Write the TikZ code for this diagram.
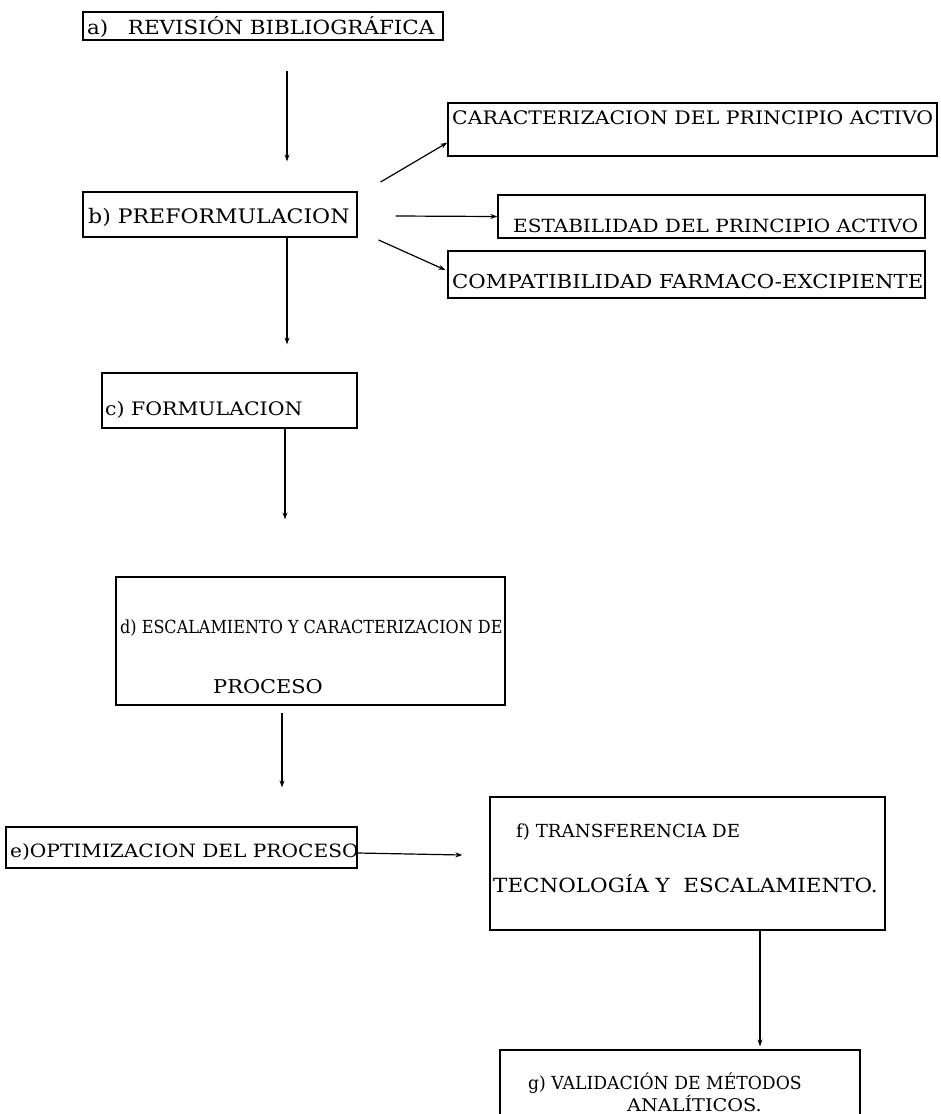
\documentclass[tikz,border=0pt]{standalone}
\usepackage{fontspec}
\setmainfont[FakeStretch=1.1]{DejaVu Serif}
\usetikzlibrary{arrows.meta,positioning}
\begin{document}
\begin{tikzpicture}[x=1pt,y=-1pt,
  box/.style={draw,line width=1.2pt,inner sep=0pt},
  txt/.style={anchor=base west,inner sep=0pt,font=\fontsize{#1}{22}\selectfont},
  txt/.default=19,
  arr/.style={line width=1.2pt,-{Stealth[length=7pt,width=5pt]}}]
\useasboundingbox (0,0) rectangle (940,1114);
\clip (0,0) rectangle (940,1114);

% boxes
\node[box,minimum width=360pt,minimum height=28pt] (a) at (263,26) {};
\node[box,minimum width=274pt,minimum height=45pt] (b) at (220,214.5) {};
\node[box,minimum width=489pt,minimum height=53pt] (ca) at (692.5,129.5) {};
\node[box,minimum width=427pt,minimum height=43pt] (es) at (711.5,216.5) {};
\node[box,minimum width=477pt,minimum height=47pt] (co) at (686.5,274.5) {};
\node[box,minimum width=255pt,minimum height=55pt] (c) at (229.5,400.5) {};
\node[box,minimum width=389pt,minimum height=128pt] (d) at (310.5,641) {};
\node[box,minimum width=351pt,minimum height=41pt] (e) at (181.5,847.5) {};
\node[box,minimum width=395pt,minimum height=133pt] (f) at (687.5,863.5) {};
\node[box,minimum width=360pt,minimum height=90pt] (g) at (680,1095) {};

% texts
\node[txt=19.5] (ta) at (87,34) {a)\quad REVISIÓN BIBLIOGRÁFICA};
\node[txt=20] (tb) at (88,223) {b) PREFORMULACION};
\node[txt=18.6] (tca) at (452,124) {CARACTERIZACION DEL PRINCIPIO ACTIVO};
\node[txt=18.2] (tes) at (513,232) {ESTABILIDAD DEL PRINCIPIO ACTIVO};
\node[txt=19.3] (tco) at (452,288) {COMPATIBILIDAD FARMACO-EXCIPIENTE};
\node[txt=18.6] (tc) at (105,415) {c) FORMULACION};
\node[txt=18] (td1) at (120,633) {\scalebox{0.81}[1]{d) ESCALAMIENTO Y CARACTERIZACION DE}};
\node[txt=19] (td2) at (213,693) {PROCESO};
\node[txt=18.3] (te) at (10,857) {e)OPTIMIZACION DEL PROCESO};
\node[txt=18] (tf1) at (516,837) {\scalebox{0.92}[1]{f) TRANSFERENCIA DE}};
\node[txt=19.5] (tf2) at (493,892) {TECNOLOGÍA Y\ \ ESCALAMIENTO.};
\node[txt=18] (tg1) at (528,1089) {\scalebox{0.87}[1]{g) VALIDACIÓN DE MÉTODOS}};
\node[txt=17.5] (tg2) at (627,1111) {ANALÍTICOS.};

% arrows
\draw[arr] ([xshift=24pt,yshift=-30pt]a.south) -- ([xshift=67pt,yshift=30pt]b.north);
\draw[arr] ([xshift=23pt,yshift=32.5pt]b.east) -- ([yshift=14pt]ca.south west);
\draw[arr] ([xshift=38pt,yshift=-1.5pt]b.east) -- (es.west);
\draw[arr] ([xshift=21pt,yshift=-25.5pt]b.east) -- ([xshift=-2pt,yshift=4.5pt]co.west);
\draw[arr] ([xshift=67pt]b.south) -- ([xshift=57.5pt,yshift=28pt]c.north);
\draw[arr] ([xshift=55.5pt]c.south) -- ([xshift=-25.5pt,yshift=57pt]d.north);
\draw[arr] ([xshift=-28.5pt,yshift=-7pt]d.south) -- ([xshift=100.5pt,yshift=39pt]e.north);
\draw[arr] ([yshift=-5.5pt]e.east) -- ([xshift=-27pt,yshift=8.5pt]f.west);
\draw[arr] ([xshift=72.5pt]f.south) -- ([xshift=80pt,yshift=3pt]g.north);
\end{tikzpicture}
\end{document}
